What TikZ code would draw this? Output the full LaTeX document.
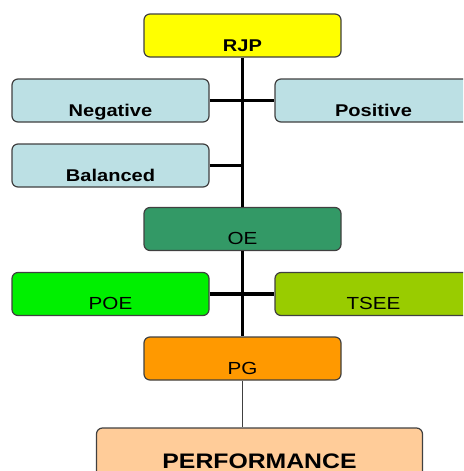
\documentclass[tikz,border=0pt]{standalone}
\usepackage{fontspec}
\usepackage{xcolor}
\newfontfamily\boxfont{Liberation Sans}[FakeStretch=1.18]
\usepackage{tikz}
\usetikzlibrary{positioning}

\definecolor{rjpyellow}{HTML}{FFFF00}
\definecolor{sideblue}{HTML}{BCE0E4}
\definecolor{oegreen}{HTML}{339966}
\definecolor{poegreen}{HTML}{00F000}
\definecolor{tseegreen}{HTML}{99CC00}
\definecolor{pgorange}{HTML}{FF9900}
\definecolor{perfpeach}{HTML}{FFCC99}
\definecolor{edgegray}{HTML}{404040}

\begin{document}
\begin{tikzpicture}[x=1pt,y=-1pt,
        box/.style={rectangle,rounded corners=6pt,draw=edgegray,line width=1.2pt,
            minimum width=197pt,minimum height=43pt,inner ysep=2pt,
            text height=31pt,text depth=0pt,font=\boxfont\fontsize{17.5}{20}\selectfont},
        boldbox/.style={box,font=\boxfont\bfseries\fontsize{17}{20}\selectfont},
        spine/.style={line width=3.5pt},
        thinline/.style={line width=1pt,draw=edgegray}]
        \clip (0,0) rectangle (463,471);
        \node[boldbox,fill=rjpyellow] (rjp) at (242.5,35.5) {RJP};
        \node[boldbox,fill=sideblue] (neg) at (110.5,100.5) {Negative};
        \node[boldbox,fill=sideblue] (pos) at (373.5,100.5) {Positive};
        \node[boldbox,fill=sideblue] (bal) at (110.5,165.5) {Balanced};
        \node[box,fill=oegreen] (oe) at (242.5,229) {OE};
        \node[box,fill=poegreen] (poe) at (110.5,294) {POE};
        \node[box,fill=tseegreen] (tsee) at (373.5,294) {TSEE};
        \node[box,fill=pgorange] (pg) at (242.5,358.5) {PG};
        \node[boldbox,fill=perfpeach,minimum width=326pt,minimum height=50pt,text height=30pt,
            font=\boxfont\bfseries\fontsize{21}{24}\selectfont] (perf) at (259.5,453) {PERFORMANCE};
        \coordinate (balj) at (bal.east -| rjp.south);
        \draw[spine] (rjp.south) -- (oe.north);
        \draw[spine] (oe.south) -- (pg.north);
        \draw[spine] (neg.east) -- (pos.west);
        \draw[spine] (bal.east) -- (balj);
        \draw[spine] (poe.east) -- (tsee.west);
        \draw[thinline] (pg.south) -- (pg.south |- perf.north);
\end{tikzpicture}
\end{document}
